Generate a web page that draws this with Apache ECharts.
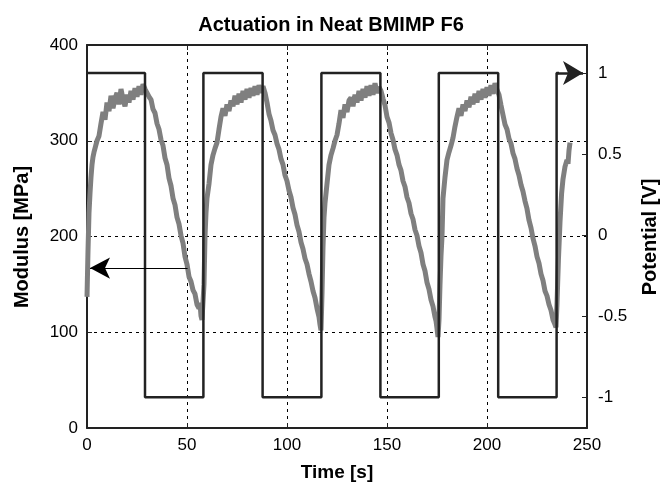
<!DOCTYPE html>
<html>
<head>
<meta charset="utf-8">
<script src="https://cdn.jsdelivr.net/npm/echarts@6/dist/echarts.min.js"></script>
<style>
  html, body { margin: 0; padding: 0; background: #fff; }
  #main { width: 662px; height: 483px; }
</style>
</head>
<body>
<div id="main"></div>
<script>
// 方波电压 (右轴)
var sqT = [0, 29, 29, 58.2, 58.2, 87.8, 87.8, 117.2, 117.2, 146.7, 146.7, 175.9, 175.9, 205.6, 205.6, 234.8, 234.8, 236];
var sqV = [1, 1, -1, -1, 1, 1, -1, -1, 1, 1, -1, -1, 1, 1, -1, -1, 1, 1];

// 模量曲线 (左轴)
var modT = [
  0, 0.5, 1, 1.5, 2, 2.5, 3, 3.5, 4, 5, 6, 7, 8, 9, 10, 11, 12, 13, 14, 15, 16, 17, 18, 19, 20, 21, 22, 23, 24, 25, 26, 27, 28, 29,
  30, 31, 32, 33, 34, 35, 36, 37, 38, 39, 40, 41, 42, 43, 44, 45, 46, 47, 48, 49, 50, 51, 52, 53, 54, 55, 56, 56.5, 57, 57.5,
  58, 58.5, 59, 59.5, 60, 61, 62, 63, 64, 65, 66, 67, 68, 69, 70, 71, 72, 73, 74, 75, 76, 77, 78, 79, 80, 81, 82, 83, 84, 85, 86, 87, 88,
  89, 90, 91, 92, 93, 94, 95, 96, 97, 98, 99, 100, 101, 102, 103, 104, 105, 106, 107, 108, 109, 110, 111, 112, 113, 114, 115, 116, 116.5, 117,
  117.5, 118, 118.5, 119, 119.5, 120, 121, 122, 123, 124, 125, 126, 127, 128, 129, 130, 131, 132, 133, 134, 135, 136, 137, 138, 139, 140, 141, 142, 143, 144, 145, 146, 146.5,
  147, 148, 149, 150, 151, 152, 153, 154, 155, 156, 157, 158, 159, 160, 161, 162, 163, 164, 165, 166, 167, 168, 169, 170, 171, 172, 173, 174, 174.5, 175, 175.5,
  176, 176.5, 177, 177.5, 178, 179, 180, 181, 182, 183, 184, 185, 186, 187, 188, 189, 190, 191, 192, 193, 194, 195, 196, 197, 198, 199, 200, 201, 202, 203, 204, 205,
  206, 207, 208, 209, 210, 211, 212, 213, 214, 215, 216, 217, 218, 219, 220, 221, 222, 223, 224, 225, 226, 227, 228, 229, 230, 231, 232, 233, 234, 234.5,
  235, 235.7, 236.5, 237.3, 238, 239, 240, 240.5, 241, 241.5
];
var modM = [
  137, 185, 225, 245, 262, 275, 283, 288, 292, 300, 305, 318, 330, 322, 340, 331, 347, 334, 344, 350, 338, 354, 343, 336, 348, 340, 352, 343, 355, 346, 357, 348, 359, 354,
  352, 346, 343, 333, 329, 318, 312, 301, 295, 282, 275, 261, 253, 240, 233, 220, 213, 201, 193, 179, 171, 158, 153, 144, 140, 129, 125, 131, 117, 113,
  113, 150, 200, 225, 240, 255, 275, 285, 292, 298, 312, 325, 334, 326, 338, 331, 342, 336, 347, 338, 349, 340, 352, 343, 354, 345, 355, 347, 357, 348, 358, 350, 357,
  350, 340, 328, 321, 311, 306, 297, 291, 281, 275, 264, 258, 248, 241, 230, 223, 212, 205, 194, 187, 177, 171, 161, 153, 143, 136, 125, 116, 108, 102,
  140, 189, 220, 235, 245, 255, 275, 285, 292, 300, 306, 318, 332, 324, 338, 330, 342, 345, 336, 348, 340, 352, 342, 354, 345, 357, 347, 358, 348, 360, 350, 356, 354,
  352, 344, 337, 325, 319, 308, 301, 291, 285, 275, 269, 258, 252, 241, 235, 224, 218, 207, 201, 190, 183, 171, 164, 152, 145, 134, 127, 116, 112, 104, 95,
  113, 150, 180, 200, 240, 262, 280, 288, 295, 303, 315, 325, 334, 326, 338, 331, 342, 335, 346, 338, 349, 340, 352, 343, 354, 345, 356, 347, 358, 349, 360, 353,
  348, 337, 327, 317, 312, 302, 297, 287, 281, 271, 264, 254, 247, 237, 229, 217, 209, 198, 190, 179, 172, 161, 154, 143, 138, 129, 123, 113, 108, 105,
  130, 175, 215, 245, 260, 273, 280, 276, 290, 298
];

var xTicks = [0, 50, 100, 150, 200, 250];
var rightTicks = [-1, -0.5, 0, 0.5, 1];

var sqData = sqT.map(function (t, i) { return [t, sqV[i]]; });
var modData = modT.map(function (t, i) { return [t, modM[i]]; });

var font = 'Liberation Sans, Arial, sans-serif';
var gridDash = { color: '#000', width: 1, type: [3, 4] };
var frame = { show: true, onZero: false, lineStyle: { color: '#222', width: 2 } };
var tick = { show: true, inside: true, length: 5, lineStyle: { color: '#222', width: 1 } };

var chart = echarts.init(document.getElementById('main'));
var option = {
  backgroundColor: '#fff',
  animation: false,
  title: {
    text: 'Actuation in Neat BMIMP F6',
    left: 'center',
    top: 10,
    textStyle: { fontFamily: font, fontSize: 20, fontWeight: 'bold', color: '#000' }
  },
  grid: { left: 87, right: 75, top: 45, bottom: 55 },
  xAxis: [
    {
      type: 'value', min: 0, max: 250, interval: 50,
      axisLine: frame,
      axisTick: tick,
      axisLabel: { fontFamily: font, fontSize: 17, color: '#000', margin: 9 },
      splitLine: { show: true, lineStyle: gridDash }
    },
    {
      type: 'value', min: 0, max: 250, interval: 50, position: 'top',
      axisLine: frame,
      axisTick: tick,
      axisLabel: { show: false },
      splitLine: { show: false }
    }
  ],
  yAxis: [
    {
      type: 'value', min: 0, max: 400, interval: 100, position: 'left',
      axisLine: frame,
      axisTick: tick,
      axisLabel: { fontFamily: font, fontSize: 17, color: '#000', margin: 9 },
      splitLine: { show: true, lineStyle: gridDash }
    },
    {
      type: 'value', min: -1.19, max: 1.173, position: 'right',
      axisLine: frame,
      axisTick: { show: true, inside: true, length: 5, customValues: rightTicks, lineStyle: { color: '#222', width: 1 } },
      axisLabel: { fontFamily: font, fontSize: 17, color: '#000', margin: 11, customValues: rightTicks },
      splitLine: { show: false }
    }
  ],
  graphic: [
    {
      type: 'text', x: 22, y: 237, rotation: Math.PI / 2,
      style: { text: 'Modulus [MPa]', fontFamily: font, fontSize: 20, fontWeight: 'bold', fill: '#000', textAlign: 'center', textVerticalAlign: 'middle' }
    },
    {
      type: 'text', x: 650, y: 237, rotation: Math.PI / 2,
      style: { text: 'Potential [V]', fontFamily: font, fontSize: 20, fontWeight: 'bold', fill: '#000', textAlign: 'center', textVerticalAlign: 'middle' }
    },
    {
      type: 'text', x: 337, y: 473,
      style: { text: 'Time [s]', fontFamily: font, fontSize: 19, fontWeight: 'bold', fill: '#000', textAlign: 'center', textVerticalAlign: 'middle' }
    }
  ],
  series: [
    {
      name: 'Modulus',
      type: 'line',
      xAxisIndex: 0,
      yAxisIndex: 0,
      data: modData,
      showSymbol: false,
      z: 2,
      lineStyle: { color: '#7f7f7f', width: 5 },
      markLine: {
        silent: true,
        symbol: ['none', 'arrow'],
        symbolSize: [16, 20],
        label: { show: false },
        lineStyle: { color: '#000', width: 1, type: 'solid' },
        data: [[{ coord: [50.3, 167] }, { coord: [1.5, 167] }]]
      }
    },
    {
      name: 'Potential',
      type: 'line',
      xAxisIndex: 0,
      yAxisIndex: 1,
      data: sqData,
      showSymbol: false,
      z: 3,
      lineStyle: { color: '#222', width: 2.5 },
      markLine: {
        silent: true,
        symbol: ['none', 'arrow'],
        symbolSize: [18, 20],
        label: { show: false },
        lineStyle: { color: '#222', width: 2.5, type: 'solid' },
        data: [[{ coord: [234.8, 1] }, { coord: [248, 1] }]]
      }
    }
  ]
};
chart.setOption(option);
</script>
</body>
</html>
